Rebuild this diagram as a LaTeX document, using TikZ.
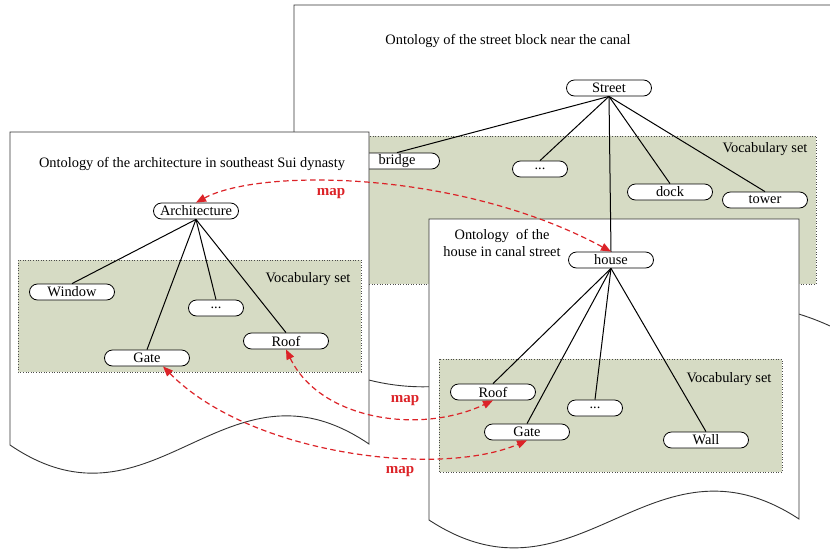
\documentclass[tikz,border=0pt]{standalone}
\usepackage{fontspec}
\setmainfont{Liberation Serif}
\usetikzlibrary{arrows.meta}
\definecolor{vocabgreen}{RGB}{214,219,196}
\definecolor{mapred}{RGB}{220,35,40}

\begin{document}
\begin{tikzpicture}[x=1pt,y=-1pt,
    font=\fontsize{14.4}{17}\selectfont,
    page/.style={draw=black!80,line width=0.9pt,fill=white},
    vocab/.style={draw=black!70,dotted,fill=vocabgreen,line width=0.6pt},
    term/.style={draw,fill=white,rounded corners=8pt,minimum width=85pt,minimum height=16pt,inner sep=0pt,line width=0.8pt},
    dots/.style={term,minimum width=55pt},
    link/.style={line width=1pt},
    mapline/.style={mapred,line width=1.2pt,dash pattern=on 5.5pt off 3.5pt,{Triangle[width=8pt,length=10pt]}-{Triangle[width=8pt,length=10pt]}},
    maplabel/.style={mapred,font=\fontsize{15}{17}\selectfont\bfseries}]
    \useasboundingbox (0,0) rectangle (830,552);
    \clip (0,0) rectangle (830,552);

    % street block
    \draw[page] (294,5) -- (870,5) -- (870,348) .. controls (640,200) and (524,486) .. (294,348) -- cycle;
    \draw[vocab] (330,136) rectangle (816,284);
    \node (streetTitle) at (508,41) {Ontology of the street block near the canal};
    \node (streetVocab) at (765,149) {Vocabulary set};
    \node[term] (street) at (609,88) {Street};
    \node[term] (bridge) at (397,161) {bridge};
    \node[dots] (dotsB) at (540,169) {...};
    \node[term] (dock) at (670,192) {dock};
    \node[term] (tower) at (765,200) {tower};
    \foreach \n in {bridge,dotsB,dock,tower}
        \draw[link] (street.south) -- (\n.north);

    % architecture
    \draw[page] (10,132) -- (369,132) -- (369,444) .. controls (225,346) and (154,543) .. (10,445) -- cycle;
    \draw[vocab] (18,260) rectangle (361,372);
    \node (archTitle) at (192,164) {Ontology of the architecture in southeast Sui dynasty};
    \node (archVocab) at (308,279) {Vocabulary set};
    \node[term] (arch) at (196,211) {Architecture};
    \node[term] (window) at (72,292) {Window};
    \node[dots] (dotsL) at (216,308) {...};
    \node[term] (roofL) at (286,341) {Roof};
    \node[term] (gateL) at (147,358) {Gate};
    \foreach \n in {window,dotsL,roofL,gateL}
        \draw[link] (arch.south) -- (\n.north);

    % house
    \draw[page] (429,219) -- (799,219) -- (799,519) .. controls (651,422) and (577,617) .. (429,520) -- cycle;
    \draw[vocab] (439,359) rectangle (782,472);
    \node[align=center] (houseTitle) at (502,243) {Ontology~ of the\\house in canal street};
    \node (houseVocab) at (729,379) {Vocabulary set};
    \node[term] (house) at (611,260) {house};
    \node[term] (roofM) at (493,392) {Roof};
    \node[dots] (dotsM) at (595,408) {...};
    \node[term] (gateM) at (527,432) {Gate};
    \node[term] (wall) at (706,440) {Wall};
    \draw[link] (street.south) -- (house.north);
    \foreach \n in {roofM,dotsM,gateM,wall}
        \draw[link] (house.south) -- (\n.north);

    % maps
    \draw[mapline] (arch.north) .. controls (260,168) and (460,170) .. (house.north);
    \node[maplabel] (map1) at (331,194) {map};
    \draw[mapline] (roofL.south) .. controls (320,420) and (420,435) .. (roofM.south);
    \node[maplabel] (map2) at (405,401) {map};
    \draw[mapline] ([xshift=16pt]gateL.south) .. controls (250,455) and (440,478) .. (gateM.south);
    \node[maplabel] (map3) at (400,472) {map};
\end{tikzpicture}
\end{document}
